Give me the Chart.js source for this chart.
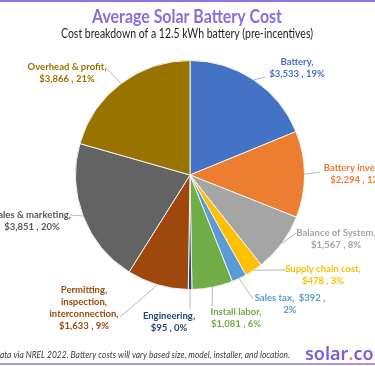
<!DOCTYPE html>
<html>
<head>
<meta charset="utf-8">
<script src="https://cdn.jsdelivr.net/npm/chart.js@4.4.1/dist/chart.umd.min.js"></script>
<style>
  html, body { margin: 0; padding: 0; background: #fff; }
  #wrap { position: relative; width: 375px; height: 366px; overflow: hidden; }
</style>
</head>
<body>
<div id="wrap"><canvas id="chart" width="375" height="366"></canvas></div>
<script>
// data
const categories = ["Battery", "Battery inverter", "Balance of System", "Supply chain cost", "Sales tax",
  "Install labor", "Engineering", "Permitting, inspection, interconnection", "Sales & marketing", "Overhead & profit"];
const costs = [3533, 2294, 1567, 478, 392, 1081, 95, 1633, 3851, 3866];
const percents = [19, 12, 8, 3, 2, 6, 0, 9, 20, 21];

const sliceColors = ["#4472c4", "#ed7d31", "#a5a5a5", "#ffc000", "#5b9bd5",
  "#70ad47", "#264478", "#9e480e", "#636363", "#997300"];
const labelColors = ["#4472c4", "#ed7d31", "#a5a5a5", "#ffc000", "#5b9bd5",
  "#70ad47", "#264478", "#9e480e", "#595959", "#997300"];

const money = (v) => "$" + v.toLocaleString("en-US");

// how each label wraps
const labelLines = categories.map((c, i) => [c + ",", money(costs[i]) + " , " + percents[i] + "%"]);
labelLines[4] = [categories[4] + ",  " + money(costs[4]) + " ,", percents[4] + "%"];
labelLines[7] = ["Permitting,", "inspection,", "interconnection,", money(costs[7]) + " , " + percents[7] + "%"];

// label centre (x, first line y) and where the leader line stops
const labelSpots = [
  { x: 297, y: 62, lx: 265, ly: 77 },
  { x: 358, y: 168, lx: 320, ly: 172 },
  { x: 336, y: 233, lx: 296, ly: 233 },
  { x: 323, y: 269, lx: 287, ly: 270 },
  { x: 290, y: 298, lx: 253, ly: 299 },
  { x: 236, y: 312, lx: 212, ly: 306 },
  { x: 169, y: 316, lx: 190, ly: 309 },
  { x: 84, y: 290, lx: 120, ly: 317 },
  { x: 32, y: 215, lx: 70, ly: 215 },
  { x: 67, y: 67, lx: 105, ly: 67 }
];

const decor = {
  id: "decor",
  afterDraw(chart) {
    const ctx = chart.ctx;
    const meta = chart.getDatasetMeta(0);
    ctx.save();

    // purple rules top and bottom
    ctx.fillStyle = "#8d74e4";
    ctx.fillRect(0, 0, 375, 2);
    ctx.fillStyle = "#a996ec";
    ctx.fillRect(0, 363, 375, 2);

    ctx.textAlign = "center";
    ctx.textBaseline = "middle";
    ctx.fillStyle = "#8b6be0";
    ctx.font = "bold 19px Lato";
    ctx.fillText("Average Solar Battery Cost", 187, 17, 190);
    ctx.fillStyle = "#1f1f1f";
    ctx.font = "12.5px Lato";
    ctx.fillText("Cost breakdown of a 12.5 kWh battery (pre-incentives)", 187, 34, 252);

    // leader lines + labels
    meta.data.forEach((arc, i) => {
      const p = arc.getProps(["x", "y", "startAngle", "endAngle", "outerRadius"], true);
      const mid = (p.startAngle + p.endAngle) / 2;
      const ex = p.x + Math.cos(mid) * p.outerRadius;
      const ey = p.y + Math.sin(mid) * p.outerRadius;
      const s = labelSpots[i];
      ctx.strokeStyle = "#a6a6a6";
      ctx.lineWidth = 0.8;
      ctx.beginPath();
      ctx.moveTo(ex, ey);
      ctx.lineTo(s.lx, s.ly);
      ctx.stroke();

      ctx.fillStyle = labelColors[i];
      ctx.font = "bold 9.5px Lato";
      labelLines[i].forEach((t, k) => ctx.fillText(t, s.x, s.y + k * 12));
    });

    // footer
    ctx.textAlign = "left";
    ctx.fillStyle = "#3a3a3a";
    ctx.font = "italic 9.5px Lato";
    ctx.fillText("Data via NREL 2022. Battery costs will vary based size, model, installer, and location.", -6, 355, 296);

    ctx.font = "600 18px 'Noto Sans'";
    ctx.textBaseline = "alphabetic";
    let x = 305;
    ctx.fillStyle = "#7b5ce0";
    ctx.fillText("solar", x, 360);
    x += ctx.measureText("solar").width;
    ctx.fillStyle = "#f08a3c";
    ctx.fillText(".", x, 360);
    x += ctx.measureText(".").width;
    ctx.fillStyle = "#7b5ce0";
    ctx.fillText("com", x, 360);
    ctx.restore();
  }
};

new Chart(document.getElementById("chart"), {
  type: "pie",
  data: {
    labels: categories,
    datasets: [{
      data: costs,
      backgroundColor: sliceColors,
      borderColor: "#f2f2f2",
      borderWidth: 1
    }]
  },
  options: {
    responsive: false,
    animation: false,
    layout: { padding: { left: 75, right: 70, top: 60, bottom: 76 } },
    plugins: {
      legend: { display: false },
      tooltip: { enabled: false },
      title: { display: false }
    }
  },
  plugins: [decor]
});
</script>
</body>
</html>
